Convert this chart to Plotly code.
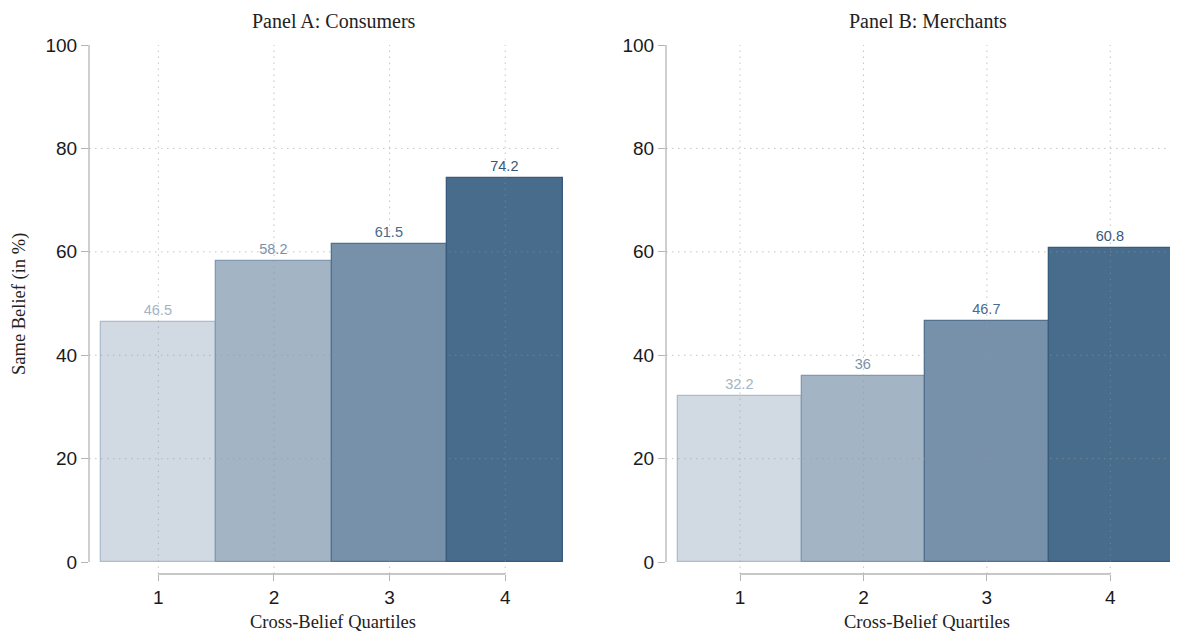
import plotly.graph_objects as go
from plotly.subplots import make_subplots

quartiles = [1, 2, 3, 4]
consumers = [46.5, 58.2, 61.5, 74.2]
merchants = [32.2, 36, 46.7, 60.8]
panel_titles = ["Panel A: Consumers", "Panel B: Merchants"]
y_ticks = [0, 20, 40, 60, 80, 100]
x_title = "Cross-Belief Quartiles"
y_title = "Same Belief (in %)"

fill_colors = ["#d1dae2", "#a3b5c5", "#7691a9", "#486c8c"]
line_colors = ["#adbdcc", "#8399af", "#52718f", "#385a7c"]
text_colors = ["#a3b4c5", "#7b92a9", "#4a6a8b", "#365779"]

OFF = 8  # page body margin
W, H = 1178 - OFF, 637 - OFF
mt, mb = 45 - OFF, 63
ph = H - mt - mb
plot_bottom = H - mb  # figure px


def px_x(x):
    return (x - OFF) / W


def px_y(y):
    return (plot_bottom - (y - OFF)) / ph


fig = make_subplots(rows=1, cols=2)

for i, vals in enumerate([consumers, merchants]):
    fig.add_trace(go.Bar(
        x=quartiles, y=vals, width=1,
        marker=dict(color=fill_colors, line=dict(color=line_colors, width=1.3)),
        text=[str(v) for v in vals], textposition="outside",
        textfont=dict(family="Liberation Sans, Arial", size=14.5, color=text_colors),
        cliponaxis=False, showlegend=False,
    ), row=1, col=i + 1)

domains = [[px_x(89), px_x(563)], [px_x(666), px_x(1172)]]
grid_col = "rgba(150,150,150,0.55)"
axis_col = "#b4b4b4"
shapes = []
annotations = []
title_centers = [334, 928]

for i in range(2):
    xa = "xaxis" if i == 0 else "xaxis2"
    ya = "yaxis" if i == 0 else "yaxis2"
    xr = "x" if i == 0 else "x2"
    yr = "y" if i == 0 else "y2"
    fig.layout[xa].update(
        domain=domains[i], range=[0.4, 4.5], tickvals=quartiles,
        ticktext=[str(q) for q in quartiles],
        showgrid=False, zeroline=False, showline=False,
        ticks="outside", ticklen=6, tickwidth=1.3, tickcolor=axis_col,
        tickfont=dict(family="Liberation Sans, Arial", size=19, color="#1a1a1a"),
    )
    fig.layout[ya].update(
        range=[-2.3, 100], tickvals=y_ticks,
        showgrid=False, zeroline=False, showline=False,
        ticks="outside", ticklen=7, tickwidth=1.3, tickcolor=axis_col,
        tickfont=dict(family="Liberation Sans, Arial", size=19, color="#1a1a1a"),
    )
    # axis lines (Stata style: spanning first to last tick)
    shapes.append(dict(type="line", xref=xr + " domain", yref=yr, x0=0, x1=0,
                       y0=y_ticks[0], y1=y_ticks[-1], line=dict(color=axis_col, width=1.3), layer="above"))
    shapes.append(dict(type="line", xref=xr, yref=yr + " domain", x0=quartiles[0], x1=quartiles[-1],
                       y0=0, y1=0, line=dict(color=axis_col, width=1.3), layer="above"))
    # dotted grid drawn above bars
    for q in quartiles:
        shapes.append(dict(type="line", xref=xr, yref=yr + " domain", x0=q, x1=q, y0=0, y1=1,
                           line=dict(color=grid_col, width=1, dash="1.5px,4.5px"), layer="above"))
    for t in y_ticks[1:-1]:
        shapes.append(dict(type="line", xref=xr + " domain", yref=yr, x0=0, x1=1, y0=t, y1=t,
                           line=dict(color=grid_col, width=1, dash="1.5px,4.5px"), layer="above"))
    annotations.append(dict(text=panel_titles[i], xref="paper", yref="paper",
                            x=px_x(title_centers[i]), y=px_y(21), xanchor="center", yanchor="middle",
                            showarrow=False, font=dict(family="Liberation Serif, Times New Roman", size=20, color="#222")))
    annotations.append(dict(text=x_title, xref="paper", yref="paper",
                            x=px_x(title_centers[i] - 1), y=px_y(622), xanchor="center", yanchor="middle",
                            showarrow=False, font=dict(family="Liberation Serif, Times New Roman", size=18.5, color="#222")))

annotations.append(dict(text=y_title, xref="paper", yref="paper", x=px_x(19), y=px_y(304),
                        xanchor="center", yanchor="middle", textangle=-90, showarrow=False,
                        font=dict(family="Liberation Serif, Times New Roman", size=18.5, color="#222")))

fig.update_layout(
    width=W, height=H, margin=dict(l=0, r=0, t=mt, b=mb),
    paper_bgcolor="white", plot_bgcolor="white",
    shapes=shapes, annotations=annotations, bargap=0,
)

fig.write_html("out.html")
